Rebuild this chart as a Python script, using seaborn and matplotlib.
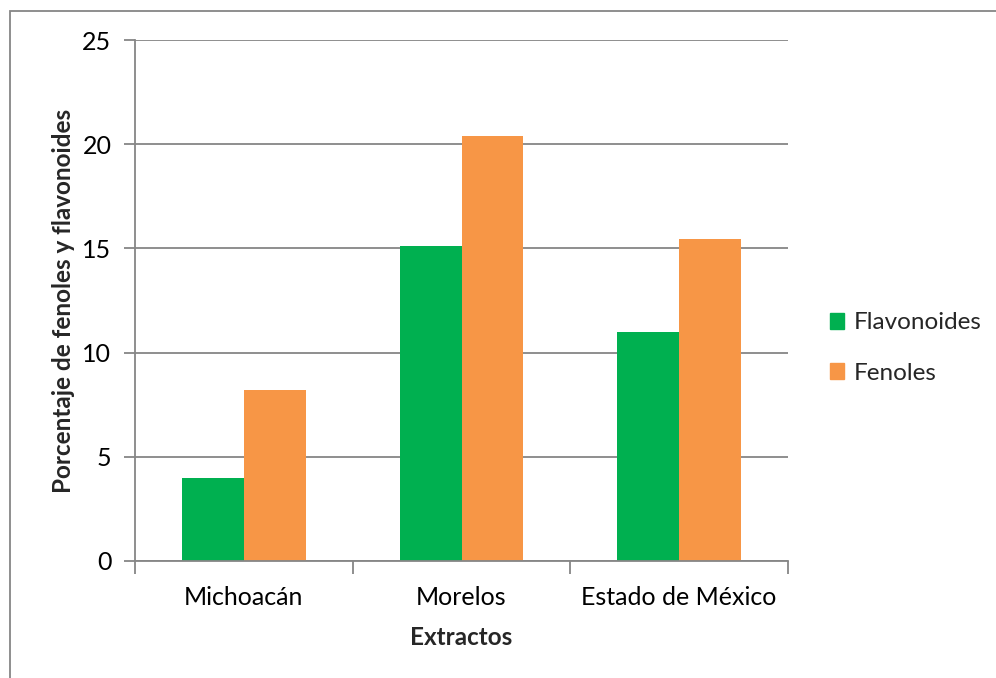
import matplotlib
matplotlib.use("Agg")
import matplotlib.pyplot as plt
import matplotlib.patches as mpatches
import seaborn as sns
import pandas as pd

categorias = ["Michoacán", "Morelos", "Estado de México"]
flavonoides = [4.0, 15.1, 11.0]
fenoles = [8.2, 20.4, 15.45]
series = ["Flavonoides", "Fenoles"]
colores = ["#00B050", "#F79646"]
yticks = [0, 5, 10, 15, 20, 25]

df = pd.DataFrame({
    "Extractos": categorias * 2,
    "valor": flavonoides + fenoles,
    "serie": [series[0]] * 3 + [series[1]] * 3,
})

sns.set_theme(style="white")
plt.rcParams['font.family'] = ['Lato', 'DejaVu Sans']

W, H = 996, 678
fig = plt.figure(figsize=(W / 100, H / 100), dpi=100)
ax = fig.add_axes([135 / W, 1 - 561 / H, (788 - 135) / W, (561 - 40) / H])

sns.barplot(data=df, x="Extractos", y="valor", hue="serie", palette=colores,
            width=0.568, ax=ax, saturation=1, legend=True, edgecolor="none")

ax.set_ylim(0, 25)
ax.set_xlim(-0.5, 2.5)
ax.set_yticks(yticks)
ax.set_yticklabels([str(v) for v in yticks])
grid_c = "#868686"
for v in yticks:
    ax.axhline(v, color=grid_c, lw=1.3, zorder=0)
ax.set_xticks([-0.5, 0.5, 1.5, 2.5], minor=False)
ax.set_xticklabels([])
ax.set_xticks([0, 1, 2], minor=True)
ax.set_xticklabels(categorias, minor=True)
ax.tick_params(axis="x", which="major", direction="out", length=9, width=1.3, color=grid_c)
ax.tick_params(axis="x", which="minor", length=0, labelsize=18, pad=18, labelcolor="black")
ax.tick_params(axis="y", direction="out", length=8, width=1.3, color=grid_c, labelsize=18, pad=9, labelcolor="black")
ax.tick_params(left=True, bottom=True)
for s in ["top", "right"]:
    ax.spines[s].set_visible(False)
ax.spines["left"].set_color(grid_c)
ax.spines["bottom"].set_color(grid_c)
ax.spines["left"].set_linewidth(1.3)
ax.spines["bottom"].set_linewidth(1.3)

ax.set_xlabel("Extractos", fontsize=17.5, fontweight="bold", labelpad=12)
ax.set_ylabel("Porcentaje de fenoles y flavonoides", fontsize=17.5, fontweight="bold", labelpad=5)

handles = [mpatches.Patch(color=c, label=l) for c, l in zip(colores, series)]
ax.legend(handles=handles, loc="center left", bbox_to_anchor=(808 / W, 1 - 348 / H),
          bbox_transform=fig.transFigure, frameon=False, fontsize=17.5,
          handlelength=0.6, handleheight=0.6, handletextpad=0.4, labelspacing=1.2)

fig.patches.append(mpatches.Rectangle((10 / W, -0.1), 1.2, 1 - 11 / H + 0.1,
                                      transform=fig.transFigure, fill=False,
                                      edgecolor="#868686", lw=1.3))

fig.savefig("out.png", dpi=100, facecolor="white")
